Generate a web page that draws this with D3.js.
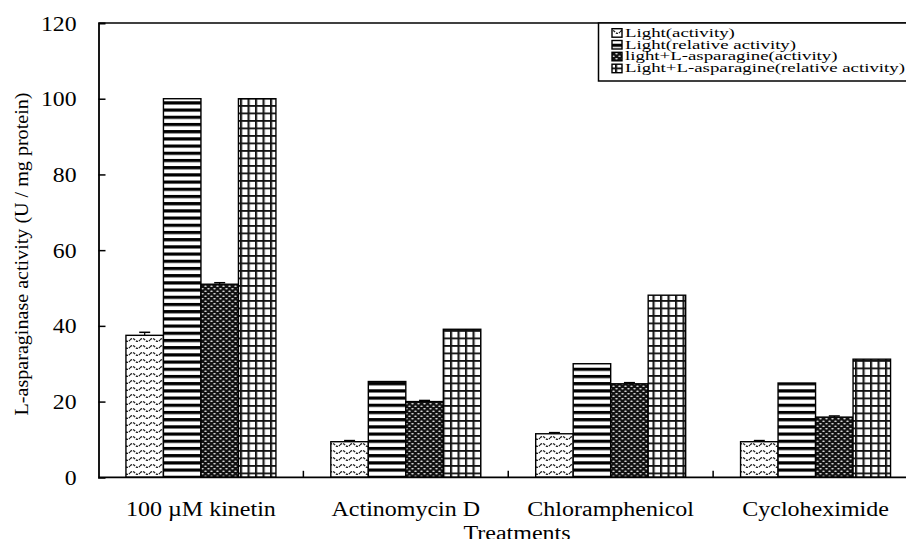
<!DOCTYPE html>
<html><head><meta charset="utf-8">
<script src="https://cdn.jsdelivr.net/npm/d3@7/dist/d3.min.js"></script>
<style>body{margin:0;background:#fff}svg{display:block}text{font-family:"Liberation Serif","Times New Roman",serif;fill:#000}</style>
</head><body><svg id="c" width="906" height="539"></svg>
<script>
const categories = ["100 \u00B5M kinetin", "Actinomycin D", "Chloramphenicol", "Cycloheximide"];
const seriesNames = ["Light(activity)", "Light(relative activity)", "light+L-asparagine(activity)", "Light+L-asparagine(relative activity)"];
const lightActivity = [37.5, 9.4, 11.5, 9.4];
const lightRelative = [100, 25.3, 30.0, 24.9];
const aspActivity = [51.0, 20.0, 24.7, 15.9];
const aspRelative = [100, 39.1, 48.1, 31.2];
const lightActivityErr = [0.8, 0.3, 0.3, 0.3];
const aspActivityErr = [0.4, 0.3, 0.3, 0.3];
const yTicks = [0, 20, 40, 60, 80, 100, 120];

const seriesValues = [lightActivity, lightRelative, aspActivity, aspRelative];
const seriesErr = [lightActivityErr, null, aspActivityErr, null];

const svg = d3.select("#c");
const defs = svg.append("defs");

// patterns
const p1 = defs.append("pattern").attr("id","p0").attr("patternUnits","userSpaceOnUse").attr("width",10).attr("height",7);
p1.append("rect").attr("width",10).attr("height",7).attr("fill","#fff");
p1.append("path").attr("d","M0,4 Q2.5,1.2 5,4 T10,4").attr("fill","none").attr("stroke","#222").attr("stroke-width",1.4).attr("stroke-dasharray","2.4,1");

const p2 = defs.append("pattern").attr("id","p1").attr("patternUnits","userSpaceOnUse").attr("width",8).attr("height",7.2).attr("y",0.5);
p2.append("rect").attr("width",8).attr("height",7.2).attr("fill","#fff");
p2.append("rect").attr("width",8).attr("height",3.2).attr("fill","#000");

const p3 = defs.append("pattern").attr("id","p2").attr("patternUnits","userSpaceOnUse").attr("width",6).attr("height",5);
p3.append("rect").attr("width",6).attr("height",5).attr("fill","#111");
p3.append("ellipse").attr("cx",1.5).attr("cy",1.2).attr("rx",1.3).attr("ry",0.75).attr("fill","#ddd");
p3.append("ellipse").attr("cx",4.5).attr("cy",3.7).attr("rx",1.3).attr("ry",0.75).attr("fill","#ddd");

const p4 = defs.append("pattern").attr("id","p3").attr("patternUnits","userSpaceOnUse").attr("width",7.5).attr("height",7.5);
p4.append("rect").attr("width",7.5).attr("height",7.5).attr("fill","#fff");
p4.append("rect").attr("x",0).attr("y",0).attr("width",1.8).attr("height",7.5).attr("fill","#111");
p4.append("rect").attr("x",0).attr("y",0).attr("width",7.5).attr("height",1.8).attr("fill","#111");
p4.append("rect").attr("x",1.8).attr("y",1.8).attr("width",0.8).attr("height",5.7).attr("fill","#999");

const pLeft = 98.5, pRight = 918, pTop = 23, pBottom = 477.3;
const x0 = d3.scaleBand().domain(categories).range([pLeft, pRight]).paddingInner(0).paddingOuter(0);
const x1 = d3.scaleBand().domain(d3.range(4)).range([0, x0.bandwidth()]).paddingInner(0).paddingOuter(0.732);
const y = d3.scaleLinear().domain([0, 120]).range([pBottom, pTop]);

function stretch(sel, f) {
  sel.each(function(){ const L = this.getComputedTextLength(); d3.select(this).attr("textLength", L*f).attr("lengthAdjust","spacingAndGlyphs"); });
}

// top border
svg.append("line").attr("x1",pLeft).attr("x2",906).attr("y1",pTop).attr("y2",pTop).attr("stroke","#000").attr("stroke-width",1.5);

// bars
const g = svg.append("g");
categories.forEach((c, ci) => {
  seriesValues.forEach((vals, si) => {
    const bx = x0(c) + x1(si);
    g.append("rect").attr("x", bx).attr("y", y(vals[ci])).attr("width", x1.bandwidth()).attr("height", y(0) - y(vals[ci]))
      .attr("fill", `url(#p${si})`).attr("stroke", "#000").attr("stroke-width", 1.4);
    if (seriesErr[si]) {
      const e = seriesErr[si][ci];
      const cx = bx + x1.bandwidth() / 2;
      g.append("line").attr("x1",cx).attr("x2",cx).attr("y1",y(vals[ci])).attr("y2",y(vals[ci]+e)).attr("stroke","#000").attr("stroke-width",1.2);
      g.append("line").attr("x1",cx-5.5).attr("x2",cx+5.5).attr("y1",y(vals[ci]+e)).attr("y2",y(vals[ci]+e)).attr("stroke","#000").attr("stroke-width",1.5);
    }
  });
});

// y axis
const yAxis = d3.axisLeft(y).tickValues(yTicks).tickSize(-7).tickPadding(22);
const ya = svg.append("g").attr("transform",`translate(${pLeft},0)`).call(yAxis);
ya.attr("font-family", null);
ya.select(".domain").attr("stroke","#000").attr("stroke-width",1.8);
ya.selectAll(".tick line").attr("stroke","#000").attr("stroke-width",1.5);
ya.selectAll(".tick text").attr("font-size",22).attr("fill","#000");
stretch(ya.selectAll(".tick text"), 1.08);
ya.selectAll(".tick").filter(d => d === 120).select("line").remove();
ya.selectAll(".tick").filter(d => d === 0).select("line").remove();

// x axis
const bounds = categories.slice(1).map(c => x0(c));
svg.append("line").attr("x1",pLeft).attr("x2",906).attr("y1",pBottom).attr("y2",pBottom).attr("stroke","#000").attr("stroke-width",1.8);
svg.append("g").selectAll("line").data(bounds).join("line")
  .attr("x1",d=>d).attr("x2",d=>d).attr("y1",pBottom).attr("y2",pBottom-6.5).attr("stroke","#000").attr("stroke-width",1.5);

const cl = svg.append("g").selectAll("text").data(categories).join("text")
  .attr("x", d => x0(d) + x0.bandwidth()/2).attr("y", 516).attr("text-anchor","middle").attr("font-size",20).text(d=>d);
stretch(cl, 1.2);

const tt = svg.append("text").attr("x",517).attr("y",540).attr("text-anchor","middle").attr("font-size",20).text("Treatments");
stretch(tt, 1.2);

const yt = svg.append("text").attr("transform","translate(28,254) rotate(-90)").attr("text-anchor","middle").attr("font-size",19.5)
  .text("L-asparaginase activity (U / mg protein)");
stretch(yt, 1.03);

// legend
const lg = svg.append("g");
lg.append("rect").attr("x",598.5).attr("y",pTop).attr("width",320).attr("height",58).attr("fill","#fff").attr("stroke","#000").attr("stroke-width",1.5);
const rowY = [36.7, 48.5, 60.3, 72.2];
seriesNames.forEach((n, i) => {
  lg.append("rect").attr("x",612).attr("y",rowY[i]-8).attr("width",10).attr("height",8.5)
    .attr("fill",`url(#p${i})`).attr("stroke","#000").attr("stroke-width",1.4);
  const t = lg.append("text").attr("x",625).attr("y",rowY[i]).attr("font-size",12).text(n);
  stretch(t, 1.57);
});
</script></body></html>
